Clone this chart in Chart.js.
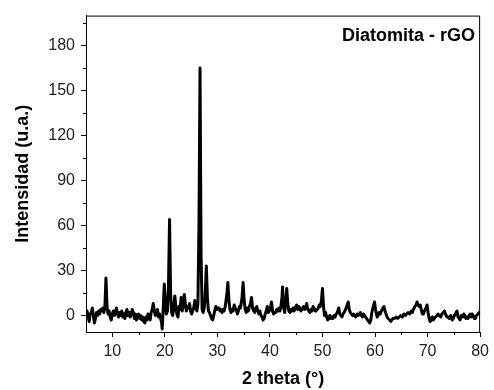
<!DOCTYPE html>
<html>
<head>
<meta charset="utf-8">
<script src="https://cdn.jsdelivr.net/npm/chart.js@4/dist/chart.umd.min.js"></script>
<style>
  html, body { margin: 0; padding: 0; background: #fff; }
  canvas { display: block; }
</style>
</head>
<body>
<canvas id="xrd" width="494" height="390"></canvas>
<script>
// 2 theta (deg)
var twoTheta = [
  5.0, 5.2, 5.4, 5.6, 5.8, 6.0, 6.2, 6.4, 6.6, 6.8,
  7.0, 7.2, 7.4, 7.6, 7.8, 8.0, 8.2, 8.4, 8.6, 8.8,
  9.0, 9.2, 9.4, 9.6, 9.8, 10.0, 10.2, 10.4, 10.6, 10.8,
  11.0, 11.2, 11.4, 11.6, 11.8, 12.0, 12.2, 12.4, 12.6, 12.8,
  13.0, 13.2, 13.4, 13.6, 13.8, 14.0, 14.2, 14.4, 14.6, 14.8,
  15.0, 15.2, 15.4, 15.6, 15.8, 16.0, 16.2, 16.4, 16.6, 16.8,
  17.0, 17.2, 17.4, 17.6, 17.8, 18.0, 18.2, 18.4, 18.6, 18.8,
  19.0, 19.2, 19.4, 19.5, 19.7, 19.9, 20.1, 20.3, 20.5, 20.7,
  20.9, 21.1, 21.3, 21.5, 21.7, 21.9, 22.1, 22.3, 22.5, 22.7,
  22.9, 23.1, 23.3, 23.5, 23.7, 23.9, 24.1, 24.3, 24.5, 24.7,
  24.9, 25.1, 25.3, 25.5, 25.7, 25.9, 26.1, 26.3, 26.5, 26.7,
  26.9, 27.1, 27.3, 27.5, 27.7, 27.9, 28.1, 28.3, 28.5, 28.7,
  28.9, 29.1, 29.3, 29.5, 29.7, 29.9, 30.1, 30.3, 30.5, 30.7,
  30.9, 31.1, 31.3, 31.5, 31.8, 32.0, 32.2, 32.4, 32.6, 32.8,
  33.0, 33.2, 33.4, 33.6, 33.8, 34.0, 34.2, 34.4, 34.7, 34.9,
  35.1, 35.3, 35.5, 35.7, 35.9, 36.1, 36.3, 36.5, 36.7, 36.9,
  37.1, 37.3, 37.5, 37.7, 37.9, 38.1, 38.3, 38.5, 38.7, 38.9,
  39.1, 39.3, 39.5, 39.7, 39.9, 40.1, 40.3, 40.5, 40.7, 40.9,
  41.1, 41.3, 41.5, 41.7, 41.9, 42.1, 42.3, 42.4, 42.6, 42.8,
  43.0, 43.2, 43.4, 43.6, 43.8, 44.0, 44.2, 44.4, 44.6, 44.8,
  45.1, 45.3, 45.5, 45.7, 45.9, 46.1, 46.4, 46.6, 46.8, 47.0,
  47.2, 47.4, 47.6, 47.8, 48.0, 48.2, 48.4, 48.6, 48.8, 49.0,
  49.2, 49.4, 49.6, 49.8, 50.0, 50.2, 50.4, 50.6, 50.8, 51.0,
  51.2, 51.4, 51.6, 51.8, 52.0, 52.2, 52.4, 52.6, 52.8, 53.1,
  53.3, 53.5, 53.7, 53.9, 54.1, 54.4, 54.7, 54.9, 55.1, 55.3,
  55.5, 55.7, 55.9, 56.1, 56.3, 56.6, 56.8, 57.0, 57.2, 57.4,
  57.6, 57.8, 58.0, 58.2, 58.4, 58.6, 58.8, 59.0, 59.2, 59.4,
  59.6, 59.9, 60.1, 60.4, 60.6, 60.8, 61.0, 61.2, 61.5, 61.7,
  61.9, 62.1, 62.3, 62.5, 62.8, 63.0, 63.2, 63.4, 63.7, 64.0,
  64.3, 64.6, 64.9, 65.2, 65.5, 65.8, 66.0, 66.3, 66.6, 66.9,
  67.1, 67.3, 67.6, 67.8, 68.0, 68.2, 68.4, 68.6, 68.8, 69.0,
  69.2, 69.4, 69.7, 69.9, 70.1, 70.3, 70.5, 70.7, 70.9, 71.1,
  71.3, 71.5, 71.8, 72.0, 72.2, 72.5, 72.7, 73.0, 73.2, 73.4,
  73.7, 73.9, 74.1, 74.4, 74.7, 74.9, 75.1, 75.3, 75.6, 75.8,
  76.0, 76.2, 76.4, 76.7, 76.9, 77.1, 77.3, 77.5, 77.7, 77.9,
  78.1, 78.3, 78.5, 78.7, 78.9, 79.1, 79.3, 79.6, 79.8, 80.0
];

// intensity (u.a.), one value per twoTheta entry
var intensity = [
  -2, 3, 0, -4, 1, 2, 5, 0, -5, -2,
  2, 0, 3, 1, 4, 3, 5, 2, 6, 25,
  6, 1, 3, -1, -3, 1, 3, 0, 2, 5,
  1, -1, 2, 0, 3, -1, 1, -2, 2, 4,
  0, 2, -1, 1, 4, 2, -2, 1, -3, 0,
  1, -2, 0, -3, -1, -4, -5, -1, -3, 1,
  0, -3, 2, 4, 8, 3, 0, 2, 4, -1,
  1, -2, -5, -9, 5, 21, 8, 1, 3, 20,
  64, 15, 2, 0, 5, 13, 6, 1, -1, 6,
  4, 12, 3, 7, 14, 8, 3, 6, 5, 8,
  3, 1, 3, 5, 10, 6, 3, 8, 60, 165,
  40, 4, 2, 5, 15, 33, 12, 3, 2, 0,
  -2, -3, 0, 3, 6, 4, 5, 5, 3, 4,
  2, 4, 3, 6, 14, 22, 10, 4, 2, 4,
  3, 7, 5, 4, 1, 3, 6, 5, 12, 22,
  10, 4, 2, 5, 3, 6, 8, 12, 5, 3,
  2, 5, 6, 3, 1, 3, 0, -1, -3, -2,
  1, 3, 6, 2, 3, 5, 9, 3, 1, 2,
  2, 4, 3, 5, 3, 6, 12, 19, 6, 2,
  8, 18, 8, 3, 2, 4, 3, 5, 3, 5,
  7, 4, 6, 5, 3, 4, 6, 4, 5, 8,
  4, 3, 2, 4, 3, 6, 5, 3, 3, 4,
  5, 7, 6, 10, 18, 6, 0, 2, -1, -3,
  -2, 0, -2, -1, -2, 0, -1, 1, 2, 5,
  1, 0, -1, 1, 2, 4, 7, 9, 4, 2,
  1, 0, 1, 0, -1, 1, 0, 1, 2, 0,
  -1, 1, 0, -1, -2, -3, -4, -5, -3, 2,
  5, 9, 4, -1, 0, 2, 1, 3, 5, 6,
  3, 1, -1, -2, -3, -4, -3, -2, -2, -1,
  -2, -1, 0, -1, 1, 0, 1, 2, 1, 3,
  2, 4, 6, 7, 9, 7, 6, 7, 4, 1,
  1, 3, 5, 7, 2, -2, -4, -3, -1, -3,
  -2, -1, 0, 1, 0, -1, 1, 2, 3, 1,
  -1, -1, -2, 0, -3, -2, 0, 1, 3, -1,
  -2, -3, 0, -1, 1, 0, -2, -1, -2, 0,
  1, -1, 1, 0, -2, -2, 0, 1, 2, 1
];

var xTicks = [10, 20, 30, 40, 50, 60, 70, 80];
var yTicks = [0, 30, 60, 90, 120, 150, 180];
var xMinor = [15, 25, 35, 45, 55, 65, 75];
var yMinor = [15, 45, 75, 105, 135, 165, 195];
var sampleLabel = "Diatomita - rGO";

var points = twoTheta.map(function (x, i) { return { x: x, y: intensity[i] }; });

var fontFamily = "'Liberation Sans', Arial, sans-serif";

// box round the plot, minor ticks and the sample name
var framePlugin = {
  id: 'frame',
  afterDraw: function (chart) {
    var ctx = chart.ctx;
    var a = chart.chartArea;
    var xs = chart.scales.x;
    var ys = chart.scales.y;
    ctx.save();
    ctx.strokeStyle = '#000';
    ctx.lineWidth = 1;
    ctx.strokeRect(a.left + 0.5, a.top + 0.5, a.right - a.left - 1, a.bottom - a.top);
    ctx.beginPath();
    xMinor.forEach(function (v) {
      var px = Math.round(xs.getPixelForValue(v)) + 0.5;
      ctx.moveTo(px, a.bottom);
      ctx.lineTo(px, a.bottom + 3);
    });
    yMinor.forEach(function (v) {
      var py = Math.round(ys.getPixelForValue(v)) + 0.5;
      ctx.moveTo(a.left, py);
      ctx.lineTo(a.left - 3, py);
    });
    ctx.stroke();
    ctx.fillStyle = '#000';
    ctx.font = 'bold 18px ' + fontFamily;
    ctx.textAlign = 'right';
    ctx.textBaseline = 'alphabetic';
    ctx.fillText(sampleLabel, a.right - 5, a.top + 25);
    ctx.restore();
  }
};

new Chart(document.getElementById('xrd'), {
  type: 'line',
  data: {
    datasets: [{
      data: points,
      borderColor: '#000',
      borderWidth: 3,
      borderJoinStyle: 'round',
      pointRadius: 0,
      tension: 0,
      fill: false
    }]
  },
  options: {
    responsive: false,
    animation: false,
    layout: { padding: { top: 12, right: 11, left: 0, bottom: 0 } },
    plugins: {
      legend: { display: false },
      tooltip: { enabled: false }
    },
    scales: {
      x: {
        type: 'linear',
        min: 5,
        max: 80,
        afterBuildTicks: function (s) { s.ticks = xTicks.map(function (v) { return { value: v }; }); },
        afterFit: function (s) { s.height = 58; },
        grid: { drawOnChartArea: false, tickLength: 5, color: '#000', tickColor: '#000' },
        border: { color: '#000', width: 1 },
        ticks: { color: '#222', padding: 5, maxRotation: 0, font: { family: fontFamily, size: 16 } },
        title: {
          display: true,
          text: '2 theta (°)',
          color: '#000',
          padding: { top: 0, bottom: 0 },
          font: { family: fontFamily, size: 18, weight: 'bold' }
        }
      },
      y: {
        type: 'linear',
        min: -11,
        max: 200,
        afterBuildTicks: function (s) { s.ticks = yTicks.map(function (v) { return { value: v }; }); },
        afterFit: function (s) { s.width = 86; },
        grid: { drawOnChartArea: false, tickLength: 5, color: '#000', tickColor: '#000' },
        border: { color: '#000', width: 1 },
        ticks: { color: '#222', padding: 6, font: { family: fontFamily, size: 16 } },
        title: {
          display: true,
          text: 'Intensidad (u.a.)',
          color: '#000',
          padding: { top: 12, bottom: 0 },
          font: { family: fontFamily, size: 18, weight: 'bold' }
        }
      }
    }
  },
  plugins: [framePlugin]
});
</script>
</body>
</html>
